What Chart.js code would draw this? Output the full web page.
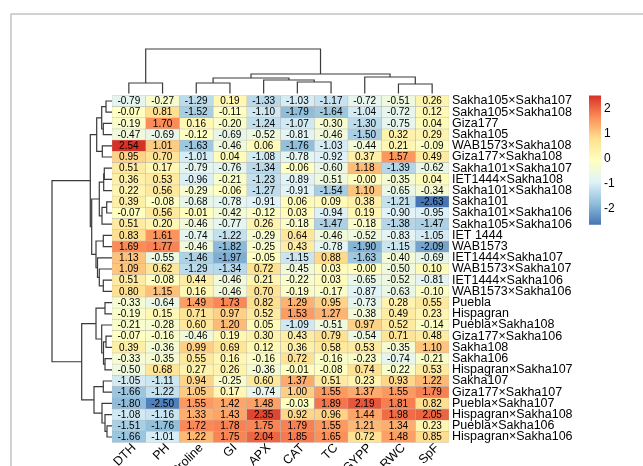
<!DOCTYPE html>
<html>
<head>
<meta charset="utf-8">
<script src="https://cdn.jsdelivr.net/npm/chart.js@4.4.1/dist/chart.umd.min.js"></script>
<style>
  html, body { margin: 0; padding: 0; background: #fff; }
  canvas { display: block; }
</style>
</head>
<body>
<canvas id="heatmap" width="643" height="466"></canvas>
<script>
// traits (columns, in dendrogram order)
const traits = ['DTH', 'PH', 'Proline', 'GI', 'APX', 'CAT', 'TC', 'GYPP', 'RWC', 'SpF'];

// genotypes (rows, in dendrogram order)
const genotypes = [
  'Sakha105×Sakha107', 'Sakha105×Sakha108', 'Giza177', 'Sakha105', 'WAB1573×Sakha108',
  'Giza177×Sakha108', 'Sakha101×Sakha107', 'IET1444×Sakha108', 'Sakha101×Sakha108', 'Sakha101',
  'Sakha101×Sakha106', 'Sakha105×Sakha106', 'IET 1444', 'WAB1573', 'IET1444×Sakha107',
  'WAB1573×Sakha107', 'IET1444×Sakha106', 'WAB1573×Sakha106', 'Puebla', 'Hispagran',
  'Puebla×Sakha108', 'Giza177×Sakha106', 'Sakha108', 'Sakha106', 'Hispagran×Sakha107',
  'Sakha107', 'Giza177×Sakha107', 'Puebla×Sakha107', 'Hispagran×Sakha108', 'Puebla×Sakha106',
  'Hispagran×Sakha106'
];

// scaled values, one row per genotype
const values = [
  [-0.79, -0.27, -1.29,  0.19, -1.33, -1.03, -1.17, -0.72, -0.51,  0.26],
  [-0.07,  0.81, -1.52, -0.11, -1.10, -1.79, -1.64, -1.04, -0.72,  0.12],
  [-0.19,  1.70,  0.16, -0.20, -1.24, -1.07, -0.30, -1.30, -0.75,  0.04],
  [-0.47, -0.69, -0.12, -0.69, -0.52, -0.81, -0.46, -1.50,  0.32,  0.29],
  [ 2.54,  1.01, -1.63, -0.46,  0.06, -1.76, -1.03, -0.44,  0.21, -0.09],
  [ 0.95,  0.70, -1.01,  0.04, -1.08, -0.78, -0.92,  0.37,  1.57,  0.49],
  [ 0.51,  0.17, -0.79, -0.76, -1.34, -0.06, -0.60,  1.18, -1.39, -0.62],
  [ 0.36,  0.53, -0.96, -0.21, -1.23, -0.89, -0.51, -0.00, -0.35,  0.04],
  [ 0.22,  0.56, -0.29, -0.06, -1.27, -0.91, -1.54,  1.10, -0.65, -0.34],
  [ 0.39, -0.08, -0.68, -0.78, -0.91,  0.06,  0.09,  0.38, -1.21, -2.63],
  [-0.07,  0.56, -0.01, -0.42, -0.12,  0.03, -0.94,  0.19, -0.90, -0.95],
  [ 0.51,  0.20, -0.46, -0.77,  0.26, -0.18, -1.47, -0.18, -1.38, -1.47],
  [ 0.83,  1.61, -0.74, -1.22, -0.29,  0.64, -0.46, -0.52, -0.83, -1.05],
  [ 1.69,  1.77, -0.46, -1.82, -0.25,  0.43, -0.78, -1.90, -1.15, -2.09],
  [ 1.13, -0.55, -1.46, -1.97, -0.05, -1.15,  0.88, -1.63, -0.40, -0.69],
  [ 1.09,  0.62, -1.29, -1.34,  0.72, -0.45,  0.03, -0.00, -0.50,  0.10],
  [ 0.51, -0.08,  0.44, -0.46,  0.21, -0.22,  0.03, -0.65, -0.52, -0.81],
  [ 0.80,  1.15,  0.16, -0.46,  0.70, -0.19, -0.17, -0.87, -0.63, -0.10],
  [-0.33, -0.64,  1.49,  1.73,  0.82,  1.29,  0.95, -0.73,  0.28,  0.55],
  [-0.19,  0.15,  0.71,  0.97,  0.52,  1.53,  1.27, -0.38,  0.49,  0.23],
  [-0.21, -0.28,  0.60,  1.20,  0.05, -1.09, -0.51,  0.97,  0.52, -0.14],
  [-0.07, -0.16, -0.46,  0.19,  0.30,  0.43,  0.79, -0.54,  0.71,  0.48],
  [ 0.39, -0.36,  0.99,  0.69,  0.12,  0.36,  0.58,  0.53, -0.35,  1.10],
  [-0.33, -0.35,  0.55,  0.16, -0.16,  0.72, -0.16, -0.23, -0.74, -0.21],
  [-0.50,  0.68,  0.27,  0.26, -0.36, -0.01, -0.08,  0.74, -0.22,  0.53],
  [-1.05, -1.11,  0.94, -0.25,  0.60,  1.37,  0.51,  0.23,  0.93,  1.22],
  [-1.66, -1.22,  1.05,  0.17, -0.74,  1.00,  1.55,  1.37,  1.55,  1.79],
  [-1.80, -2.50,  1.55,  1.42,  1.48, -0.03,  1.89,  2.19,  1.81,  0.82],
  [-1.08, -1.16,  1.33,  1.43,  2.35,  0.92,  0.96,  1.44,  1.98,  2.05],
  [-1.51, -1.76,  1.72,  1.78,  1.75,  1.79,  1.55,  1.21,  1.34,  0.23],
  [-1.66, -1.01,  1.22,  1.75,  2.04,  1.85,  1.65,  0.72,  1.48,  0.85]
];

// dendrograms: [left, right, mergeHeight], leaves are indices
const rowTree = [
  [
    [[[0, 1, 6], [2, 3, 8.7], 10.3], [4, 5, 9.7], 15.3],
    [
      [[[6, 7, 7.7], 8, 8.3], [[9, 10, 5.3], 11, 10], 12.7],
      [[12, 13, 8.7], [14, [15, [16, 17, 8.7], 12.7], 14.5], 16],
      20.3
    ],
    21.7
  ],
  [
    [[18, 19, 7], [20, [[21, 22, 6], [23, 24, 7], 8.5], 10.3], 16],
    [[25, 26, 8.7], [27, [28, [29, 30, 5], 7], 10], 18],
    30.3
  ],
  60
];
const colTree = [
  [0, 1, 10.4],
  [
    [[2, 3, 10.4], [4, [5, 6, 11.4], 13.4], 15.4],
    [7, [8, 9, 9.4], 16.4],
    19.4
  ],
  44.4
];

const legendTicks = [2, 1, 0, -1, -2];

const palette = ['#4575B4', '#91BFDB', '#E0F3F8', '#FFFFBF', '#FEE090', '#FC8D59', '#D73027'];
const allVals = values.flat();
const vMin = Math.min(...allVals);
const vMax = Math.max(...allVals);

function hexToRgb(h) {
  return [parseInt(h.substr(1, 2), 16), parseInt(h.substr(3, 2), 16), parseInt(h.substr(5, 2), 16)];
}
function colorFor(v) {
  let t = (v - vMin) / (vMax - vMin) * (palette.length - 1);
  t = Math.max(0, Math.min(palette.length - 1, t));
  const i = Math.min(Math.floor(t), palette.length - 2);
  const f = t - i;
  const a = hexToRgb(palette[i]), b = hexToRgb(palette[i + 1]);
  const c = a.map((x, k) => Math.round(x + (b[k] - x) * f));
  return `rgb(${c[0]},${c[1]},${c[2]})`;
}
function fmt(v) {
  if (Object.is(v, -0)) return '-0.00';
  return v.toFixed(2);
}

const FONT = '"Liberation Sans", Arial, sans-serif';

// draws a dendrogram; toXY maps (leaf position, height) to canvas coords
function drawTree(ctx, node, leafPos, toXY) {
  if (typeof node === 'number') return { pos: leafPos(node), h: 0 };
  const a = drawTree(ctx, node[0], leafPos, toXY);
  const b = drawTree(ctx, node[1], leafPos, toXY);
  const h = node[2];
  const p1 = toXY(a.pos, a.h), p2 = toXY(a.pos, h), p3 = toXY(b.pos, h), p4 = toXY(b.pos, b.h);
  ctx.beginPath();
  ctx.moveTo(p1[0], p1[1]);
  ctx.lineTo(p2[0], p2[1]);
  ctx.lineTo(p3[0], p3[1]);
  ctx.lineTo(p4[0], p4[1]);
  ctx.stroke();
  return { pos: (a.pos + b.pos) / 2, h: h };
}

const heatmapExtras = {
  id: 'heatmapExtras',
  afterDatasetsDraw(chart) {
    const ctx = chart.ctx;
    const xs = chart.scales.x, ys = chart.scales.y;
    ctx.save();
    ctx.fillStyle = '#000';
    ctx.font = `10px ${FONT}`;
    ctx.textAlign = 'center';
    ctx.textBaseline = 'middle';
    values.forEach((row, i) => {
      row.forEach((v, j) => {
        ctx.fillText(fmt(v), xs.getPixelForValue(j + 0.5), ys.getPixelForValue(i) + 0.5);
      });
    });
    ctx.restore();
  },
  afterDraw(chart) {
    const ctx = chart.ctx;
    const area = chart.chartArea;
    const xs = chart.scales.x, ys = chart.scales.y;
    ctx.save();

    // frame lines of the plot window
    ctx.strokeStyle = '#c4c4c4';
    ctx.lineWidth = 1.5;
    ctx.beginPath();
    ctx.moveTo(11, 466);
    ctx.lineTo(11, 14);
    ctx.lineTo(643, 14);
    ctx.stroke();

    ctx.strokeStyle = '#3a3a3a';
    ctx.lineWidth = 1.2;
    drawTree(ctx, rowTree, i => ys.getPixelForValue(i), (p, h) => [area.left - h, p]);
    drawTree(ctx, colTree, j => xs.getPixelForValue(j + 0.5), (p, h) => [p, area.top - 2 - h]);

    // colour key
    const keyX = 589, keyW = 12, zeroY = 159, unit = 25;
    const yTop = zeroY - vMax * unit, yBot = zeroY - vMin * unit;
    const grad = ctx.createLinearGradient(0, yBot, 0, yTop);
    palette.forEach((c, k) => grad.addColorStop(k / (palette.length - 1), c));
    ctx.fillStyle = grad;
    ctx.fillRect(keyX, yTop, keyW, yBot - yTop);
    ctx.fillStyle = '#000';
    ctx.font = `12px ${FONT}`;
    ctx.textAlign = 'left';
    ctx.textBaseline = 'middle';
    legendTicks.forEach(t => {
      ctx.fillText(t < 0 ? '-' + Math.abs(t) : String(t), keyX + keyW + 3, zeroY - t * unit);
    });
    ctx.restore();
  }
};

new Chart(document.getElementById('heatmap'), {
  type: 'bar',
  data: {
    labels: genotypes,
    datasets: traits.map((t, j) => ({
      label: t,
      data: genotypes.map(() => 1),
      backgroundColor: values.map(r => colorFor(r[j])),
      borderColor: '#b4b4b4',
      borderWidth: 0.5,
      borderSkipped: false,
      barPercentage: 1,
      categoryPercentage: 1
    }))
  },
  options: {
    indexAxis: 'y',
    responsive: false,
    animation: false,
    events: [],
    layout: { padding: { left: 112, top: 95.4, right: 0, bottom: 0 } },
    plugins: { legend: { display: false }, tooltip: { enabled: false } },
    scales: {
      x: {
        type: 'linear',
        stacked: true,
        position: 'bottom',
        min: 0,
        max: 10,
        grid: { display: false, drawTicks: false },
        border: { display: false },
        ticks: {
          autoSkip: false,
          minRotation: 45,
          maxRotation: 45,
          padding: -2,
          labelOffset: 5,
          color: '#000',
          font: { family: FONT, size: 12.5 },
          callback: (v, i) => traits[i]
        },
        afterBuildTicks: s => { s.ticks = traits.map((t, i) => ({ value: i + 0.5 })); },
        afterFit: s => { s.height = 23.4; }
      },
      y: {
        type: 'category',
        stacked: true,
        position: 'right',
        grid: { display: false, drawTicks: false },
        border: { display: false },
        ticks: {
          autoSkip: false,
          padding: 3,
          color: '#000',
          font: { family: FONT, size: 12.5 }
        },
        afterFit: s => { s.width = 194; }
      }
    }
  },
  plugins: [heatmapExtras]
});
</script>
</body>
</html>
